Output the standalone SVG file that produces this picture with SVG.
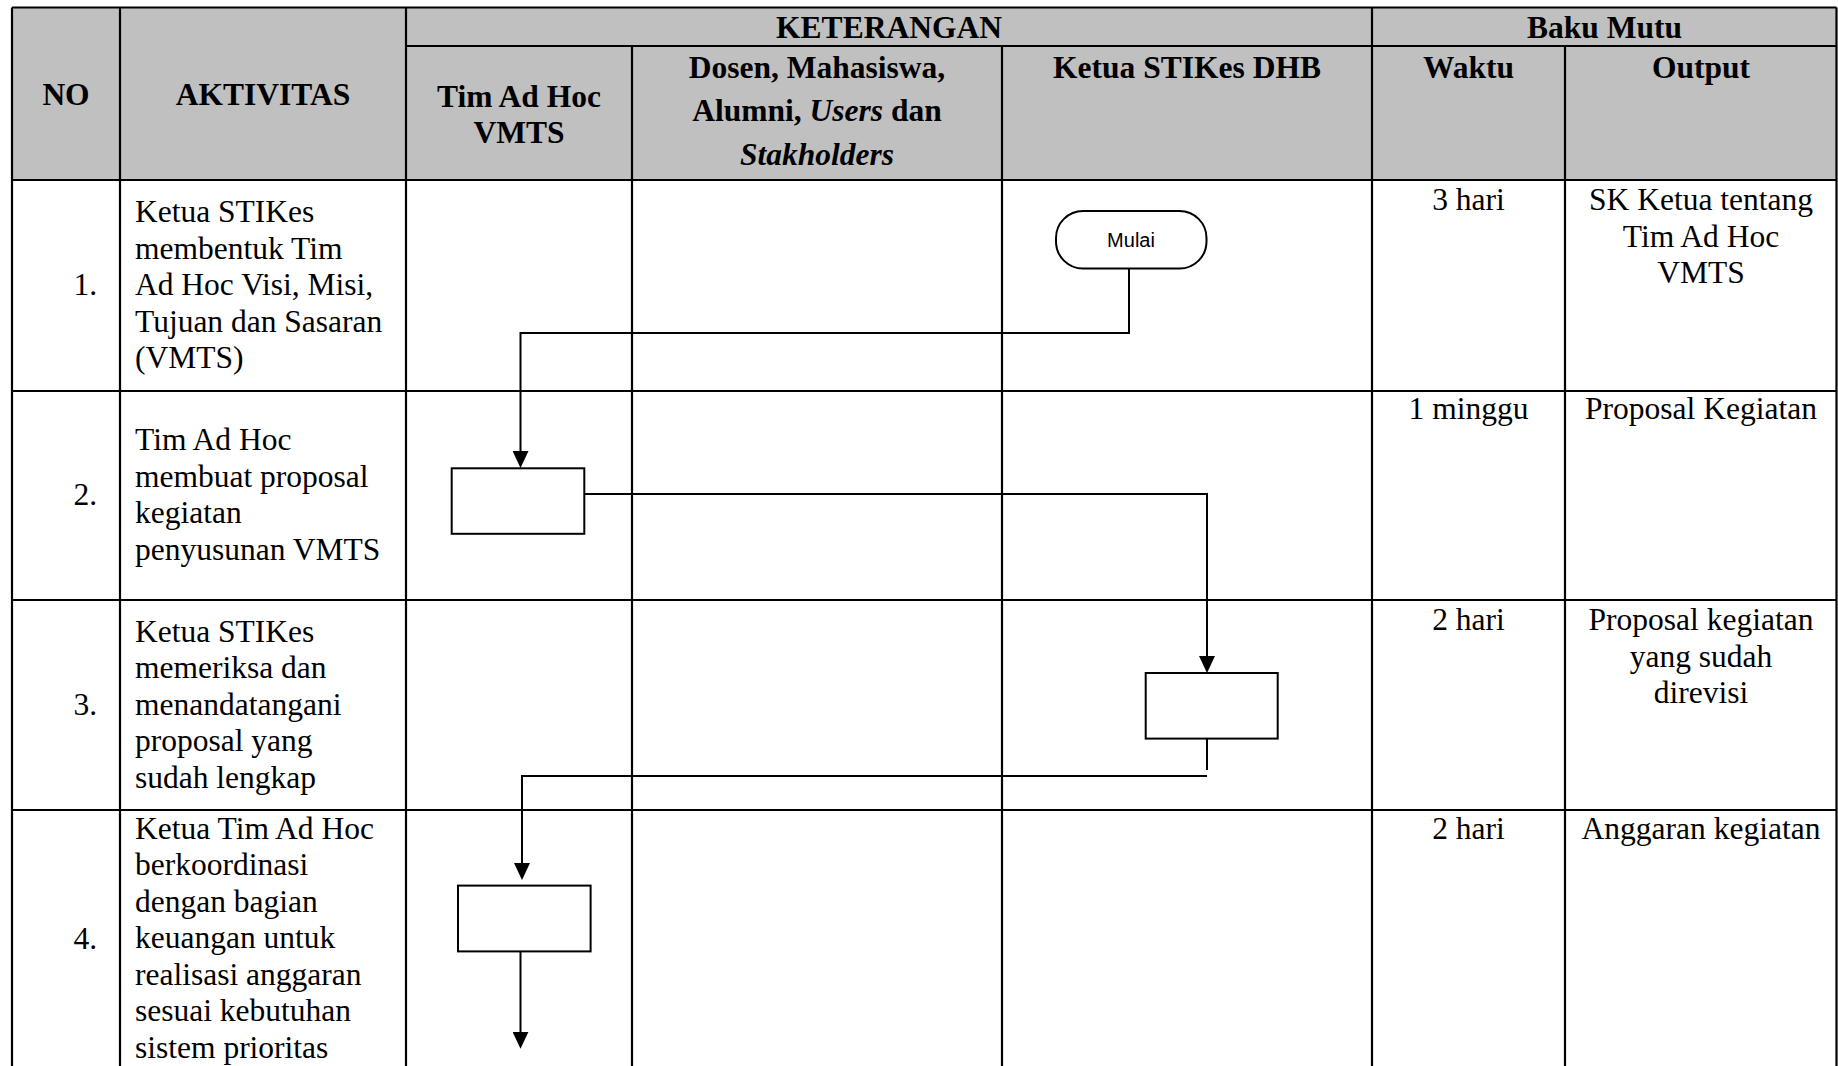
<svg xmlns="http://www.w3.org/2000/svg" width="1838" height="1066" viewBox="0 0 1838 1066">
<style>
.grid{stroke:#000;stroke-width:2.2;fill:none}
.hdr{font-family:"Liberation Serif","Times New Roman",serif;font-size:31.5px;font-weight:bold;fill:#000;text-anchor:middle}
.b{font-family:"Liberation Serif","Times New Roman",serif;font-size:31.5px;fill:#000}
.c{text-anchor:middle}
.n{text-anchor:end}
.node{fill:#fff;stroke:#000;stroke-width:2}
.conn{fill:none;stroke:#000;stroke-width:2}
.lbl{font-family:"Liberation Sans",Arial,sans-serif;font-size:20px;fill:#000;text-anchor:middle}
</style>
<defs>
<marker id="arr" markerUnits="userSpaceOnUse" markerWidth="17" markerHeight="16" viewBox="0 0 17 16" refX="14" refY="8" orient="auto">
<path d="M0,0 L17,8 L0,16 z" fill="#000"/>
</marker>
</defs>
<rect width="1838" height="1066" fill="#fff"/>
<g id="table">
<rect x="12" y="7.5" width="1824.5" height="172.5" fill="#c0c0c0"/>
<path class="grid" d="M12 7.5H1836.5M406 46H1836.5M12 180H1836.5M12 391H1836.5M12 600H1836.5M12 810H1836.5M12 7.5V1066M120 7.5V1066M406 7.5V1066M1372 7.5V1066M1836.5 7.5V1066M632 46V1066M1002 46V1066M1565 46V1066"/>
<text class="hdr" x="66" y="104.5">NO</text>
<text class="hdr" x="263" y="104.5">AKTIVITAS</text>
<text class="hdr" x="889" y="37.5">KETERANGAN</text>
<text class="hdr" x="1604.5" y="37.5">Baku Mutu</text>
<text class="hdr" x="519" y="106.5">Tim Ad Hoc</text>
<text class="hdr" x="519" y="143">VMTS</text>
<text class="hdr" x="817" y="77.5">Dosen, Mahasiswa,</text>
<text class="hdr" x="817" y="121">Alumni, <tspan font-style="italic">Users</tspan> dan</text>
<text class="hdr" x="817" y="164.5" font-style="italic">Stakholders</text>
<text class="hdr" x="1187" y="77.5">Ketua STIKes DHB</text>
<text class="hdr" x="1468.5" y="77.5">Waktu</text>
<text class="hdr" x="1701" y="77.5">Output</text>
<text class="b n" x="97" y="295">1.</text>
<text class="b" x="135" y="222">Ketua STIKes</text>
<text class="b" x="135" y="258.5">membentuk Tim</text>
<text class="b" x="135" y="295">Ad Hoc Visi, Misi,</text>
<text class="b" x="135" y="331.5">Tujuan dan Sasaran</text>
<text class="b" x="135" y="368">(VMTS)</text>
<text class="b n" x="97" y="505">2.</text>
<text class="b" x="135" y="450">Tim Ad Hoc</text>
<text class="b" x="135" y="486.5">membuat proposal</text>
<text class="b" x="135" y="523">kegiatan</text>
<text class="b" x="135" y="559.5">penyusunan VMTS</text>
<text class="b n" x="97" y="714.5">3.</text>
<text class="b" x="135" y="641.5">Ketua STIKes</text>
<text class="b" x="135" y="678">memeriksa dan</text>
<text class="b" x="135" y="714.5">menandatangani</text>
<text class="b" x="135" y="751">proposal yang</text>
<text class="b" x="135" y="787.5">sudah lengkap</text>
<text class="b n" x="97" y="948.5">4.</text>
<text class="b" x="135" y="838.5">Ketua Tim Ad Hoc</text>
<text class="b" x="135" y="875">berkoordinasi</text>
<text class="b" x="135" y="911.5">dengan bagian</text>
<text class="b" x="135" y="948">keuangan untuk</text>
<text class="b" x="135" y="984.5">realisasi anggaran</text>
<text class="b" x="135" y="1021">sesuai kebutuhan</text>
<text class="b" x="135" y="1057.5">sistem prioritas</text>
<text class="b c" x="1468.5" y="210">3 hari</text>
<text class="b c" x="1701" y="210">SK Ketua tentang</text>
<text class="b c" x="1701" y="246.5">Tim Ad Hoc</text>
<text class="b c" x="1701" y="283">VMTS</text>
<text class="b c" x="1468.5" y="419">1 minggu</text>
<text class="b c" x="1701" y="419">Proposal Kegiatan</text>
<text class="b c" x="1468.5" y="630">2 hari</text>
<text class="b c" x="1701" y="630">Proposal kegiatan</text>
<text class="b c" x="1701" y="666.5">yang sudah</text>
<text class="b c" x="1701" y="703">direvisi</text>
<text class="b c" x="1468.5" y="839">2 hari</text>
<text class="b c" x="1701" y="839">Anggaran kegiatan</text>
</g>
<g id="connectors">
<path class="conn" d="M1129 268.5V333H520.5V465" marker-end="url(#arr)"/>
<path class="conn" d="M584.3 494H1207V670" marker-end="url(#arr)"/>
<path class="conn" d="M1207 738.6V770"/>
<path class="conn" d="M1207 776H522V877" marker-end="url(#arr)"/>
<path class="conn" d="M520.5 951.4V1045.7" marker-end="url(#arr)"/>
</g>
<g id="mulai">
<rect class="node" x="1056" y="211" width="150.5" height="57.5" rx="27" ry="27"/>
<text class="lbl" x="1131" y="247">Mulai</text>
</g>
<g id="box1">
<rect class="node" x="451.7" y="468.3" width="132.6" height="65.5"/>
</g>
<g id="box2">
<rect class="node" x="1145.7" y="673" width="132" height="65.6"/>
</g>
<g id="box3">
<rect class="node" x="458" y="885.6" width="132.6" height="65.8"/>
</g>
</svg>
